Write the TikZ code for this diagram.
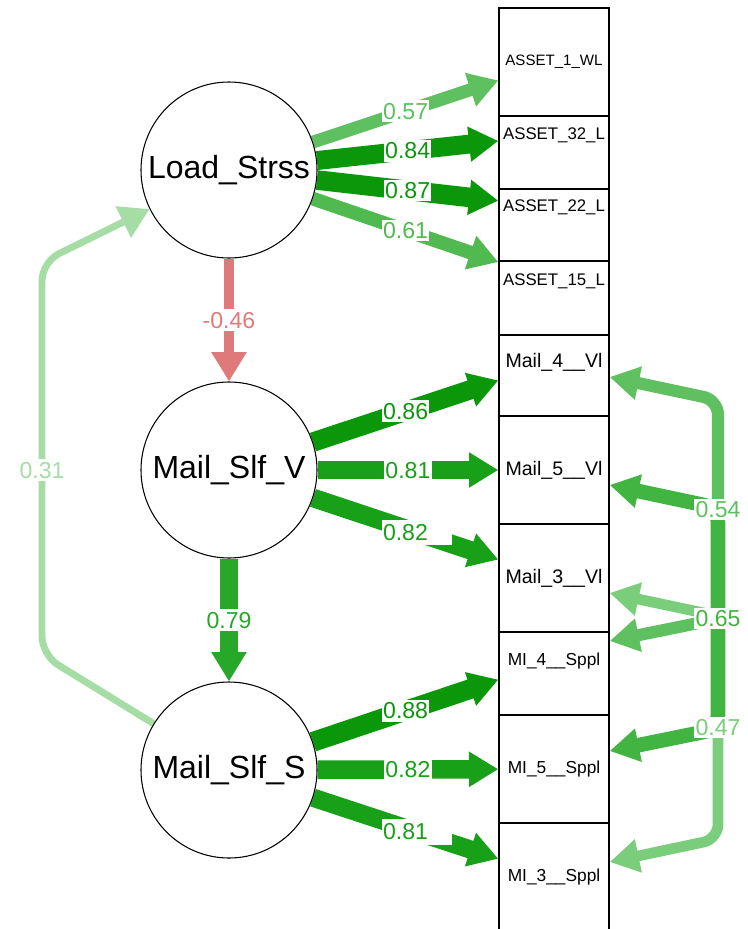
\documentclass[tikz,border=0pt]{standalone}
\usepackage{fontspec}
\setmainfont{Liberation Sans}
\usetikzlibrary{arrows.meta,calc}
\pgfdeclarelayer{edges}
\pgfsetlayers{edges,main}
\definecolor{cA}{RGB}{10,152,10}
\definecolor{cB}{RGB}{24,160,24}
\definecolor{cC}{RGB}{40,168,40}
\definecolor{c65}{RGB}{66,180,66}
\definecolor{c61}{RGB}{80,185,80}
\definecolor{c57}{RGB}{94,192,94}
\definecolor{c47}{RGB}{122,205,122}
\definecolor{c31}{RGB}{165,221,165}
\definecolor{cneg}{RGB}{224,122,122}
\begin{document}
\begin{tikzpicture}[x=0.75pt,y=-0.75pt,
  latent/.style={circle,draw=black,line width=0.8pt,fill=white,minimum size=132pt,inner sep=0pt,font=\fontsize{24}{28}\selectfont},
  manifest/.style={rectangle,draw=black,line width=1pt,fill=white,minimum width=82.5pt,minimum height=81pt,inner sep=0pt},
  fa/.style={font=\fontsize{11.3}{13}\selectfont},
  fb/.style={font=\fontsize{12.6}{14}\selectfont},
  fm/.style={font=\fontsize{14.7}{17}\selectfont},
  fs/.style={font=\fontsize{13}{15}\selectfont},
  arr/.style={-{Triangle[length=22pt,width=25pt]}},
  darr/.style={{Triangle[length=22pt,width=24pt]}-{Triangle[length=22pt,width=24pt]}},
  lbl/.style={fill=white,inner xsep=1pt,inner ysep=1.5pt,font=\fontsize{17.3}{20}\selectfont,text height=12.6pt,text depth=0.6pt},
  widelbl/.style={lbl,inner ysep=3pt},
]
\useasboundingbox (0,0) rectangle (747,929);
\clip (0,0) rectangle (747,929);

% latent variables
\node[latent] (LS)  at (229,170) {Load\_Strss};
\node[latent] (MSV) at (229,470) {Mail\_Slf\_V};
\node[latent] (MSS) at (229,770) {Mail\_Slf\_S};

% manifest variables (drawn bottom first so upper boxes overlap)
\node[manifest,fs] (MI3) at (554,877) {MI\_3\_\_Sppl};
\node[manifest,fs] (MI5) at (554,769) {MI\_5\_\_Sppl};
\node[manifest,fs] (MI4) at (554,661) {MI\_4\_\_Sppl};
\node[manifest,fm] (M3)  at (554,578) {Mail\_3\_\_Vl};
\node[manifest,fm] (M5)  at (554,470) {Mail\_5\_\_Vl};
\node[manifest,fm] (M4)  at (554,362) {Mail\_4\_\_Vl};
\node[manifest,fb] (A15) at (554,281) {ASSET\_15\_L};
\node[manifest,fb] (A22) at (554,207) {ASSET\_22\_L};
\node[manifest,fb] (A32) at (554,135) {ASSET\_32\_L};
\node[manifest,fa] (A1)  at (554,62)  {ASSET\_1\_WL};

\begin{pgfonlayer}{edges}
% loadings of Load_Strss
\draw[arr,c57,line width=9.6pt]  (LS) -- (A1)  coordinate[midway] (l1);
\draw[arr,cA,line width=14.2pt]  (LS) -- (A32) coordinate[midway] (l2);
\draw[arr,cA,line width=14.7pt]  (LS) -- (A22) coordinate[midway] (l3);
\draw[arr,c61,line width=10.3pt] (LS) -- (A15) coordinate[midway] (l4);
% loadings of Mail_Slf_V
\draw[arr,cA,line width=14.5pt]  (MSV) -- (M4) coordinate[midway] (l5);
\draw[arr,cB,line width=13.7pt]  (MSV) -- (M5) coordinate[midway] (l6);
\draw[arr,cB,line width=13.9pt]  (MSV) -- (M3) coordinate[pos=0.56] (l7);
% loadings of Mail_Slf_S
\draw[arr,cA,line width=14.85pt] (MSS) -- (MI4) coordinate[midway] (l8);
\draw[arr,cB,line width=13.9pt]  (MSS) -- (MI5) coordinate[midway] (l9);
\draw[arr,cB,line width=13.7pt]  (MSS) -- (MI3) coordinate[pos=0.56] (l10);
% structural paths
\draw[arr,cneg,line width=7.8pt] (LS) -- (MSV) coordinate[midway] (l11);
\draw[arr,cC,line width=13.3pt]  (MSV) -- (MSS) coordinate[midway] (l12);
\draw[arr,c31,line width=5.2pt,rounded corners=14pt]
  (MSS) -- (42,655) -- (42,262) coordinate[pos=0.47] (l13) -- (LS);
% residual covariances
\draw[darr,c57,line width=9.1pt,rounded corners=11pt]
  ($(M4.east)+(0,15)$) -- (718,400) -- (718,619) coordinate[midway] (l14) -- ($(MI4.east)+(0,-20)$);
\draw[darr,c47,line width=8pt,rounded corners=11pt]
  ($(M3.east)+(0,15)$) -- (718,616) -- (718,839) coordinate[midway] (l16) -- ($(MI3.east)+(0,-15)$);
\draw[darr,c65,line width=11pt,rounded corners=11pt]
  ($(M5.east)+(0,15)$) -- (718,508) -- (718,729) coordinate[midway] (l15) -- ($(MI5.east)+(0,-18)$);
\end{pgfonlayer}

% edge labels
\node[lbl,text=c57]  at (l1)  {0.57};
\node[lbl,text=cA]   at (l2)  {0.84};
\node[lbl,text=cA]   at (l3)  {0.87};
\node[lbl,text=c61]  at (l4)  {0.61};
\node[lbl,text=cA]   at (l5)  {0.86};
\node[lbl,text=cB]   at (l6)  {0.81};
\node[widelbl,text=cB] at (l7) {0.82\hspace*{17pt}};
\node[lbl,text=cA]   at (l8)  {0.88};
\node[lbl,text=cB]   at (l9)  {0.82};
\node[widelbl,text=cB] at (l10) {0.81\hspace*{17pt}};
\node[lbl,text=cneg] at (l11) {-0.46};
\node[lbl,text=cC]   at (l12) {0.79};
\node[lbl,text=c31]  at (l13) {0.31};
\node[lbl,text=c57]  at (l14) {0.54};
\node[lbl,text=c65]  at (l15) {0.65};
\node[lbl,text=c47]  at (l16) {0.47};
\end{tikzpicture}
\end{document}
